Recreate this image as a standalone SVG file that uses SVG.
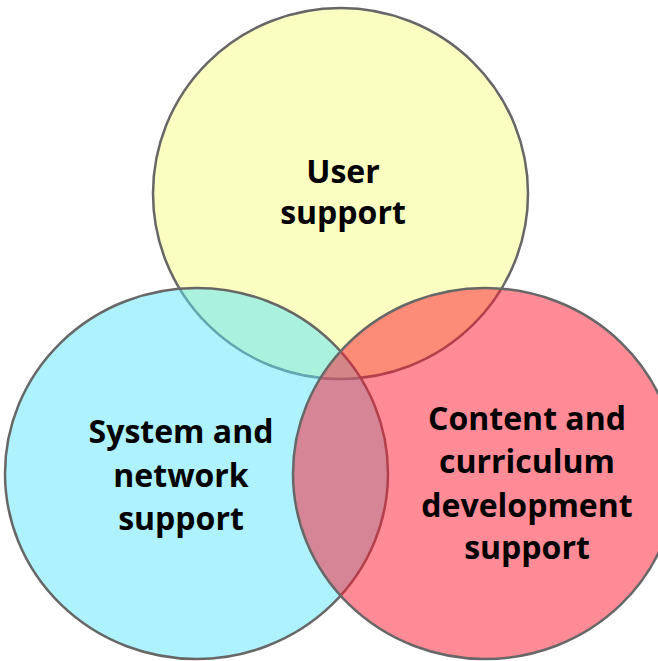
<svg xmlns="http://www.w3.org/2000/svg" width="658" height="661" viewBox="0 0 658 661">
  <style>
    .ring { stroke: #676767; stroke-width: 2.5; }
    .label { font-family: "Open Sans", "Noto Sans", "Liberation Sans", sans-serif; font-weight: 700; font-size: 32px; fill: #000; text-anchor: middle; }
  </style>
  <rect width="658" height="661" fill="#ffffff"/>
  <g id="user-support">
    <ellipse class="ring" cx="340.5" cy="193.5" rx="187.5" ry="185.5" fill="#fafec0"/>
  </g>
  <g id="system-network-support">
    <ellipse class="ring" cx="196.5" cy="473.5" rx="191.5" ry="185.5" fill="rgb(91,229,251)" fill-opacity="0.5"/>
  </g>
  <g id="content-curriculum-support">
    <ellipse class="ring" cx="485" cy="473.5" rx="192" ry="185.5" fill="rgb(253,23,45)" fill-opacity="0.5"/>
  </g>
  <g id="labels">
    <text class="label" x="343" y="183">User</text>
    <text class="label" x="343" y="224">support</text>
    <text class="label" x="181" y="443">System and</text>
    <text class="label" x="181" y="487">network</text>
    <text class="label" x="181" y="530">support</text>
    <text class="label" x="527" y="430">Content and</text>
    <text class="label" x="527" y="473">curriculum</text>
    <text class="label" x="527" y="517">development</text>
    <text class="label" x="527" y="559">support</text>
  </g>
</svg>
